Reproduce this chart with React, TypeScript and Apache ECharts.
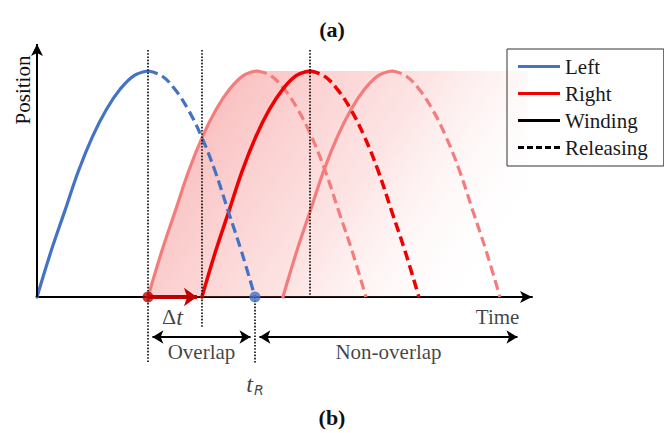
import React, { useEffect, useRef } from 'react';
import * as echarts from 'echarts';

const SERIF = 'Liberation Serif';

// Normalised hump (position vs. fraction of a phase)
const windProfile = [0, 0.2, 0.38, 0.56, 0.71, 0.83, 0.92, 0.98, 1];

// Stroke curves: start of winding, peak (winding -> releasing), end of releasing
const curveIds = ['left', 'rightEarly', 'rightMain', 'rightLate'];
const curveNames = ['Left', 'Right (Δt earlier)', 'Right', 'Right (later)'];
const curveStart = [0, 1.0, 1.486, 2.216];
const curvePeak = [1.0, 1.982, 2.459, 3.198];
const curveEnd = [1.964, 2.964, 3.441, 4.171];

// shaded band
const fillTopEnd = 4.42;

// dotted guide lines
const dottedX = [1.0, 1.486, 2.459, 1.964];
const dottedTop = [1.093, 1.093, 1.093, 0];
const dottedBottom = [-0.292, -0.133, 0, -0.292];

// events
const deltaTFrom = 1.0;
const deltaTTo = 1.486;
const tR = 1.964;
const spanY = -0.177;
const spanEnd = 4.369;

// text labels
const labelTexts = ['{d|Δ}{t|t}', 'Time', 'Overlap', 'Non-overlap', '{t|t}{r|R}'];
const labelX = [1.22, 4.351, 1.482, 3.167, 1.964];
const labelY = [-0.088, -0.088, -0.243, -0.243, -0.385];

const legendNames = ['Left', 'Right', 'Winding', 'Releasing'];

const X_MAX = 4.46;
const Y_MIN = -0.5;
const Y_MAX = 1.124;

function phase(a: number, b: number, rising: boolean) {
  const n = windProfile.length - 1;
  return windProfile.map((v, i) => [a + ((b - a) * i) / n, rising ? v : windProfile[n - i]]);
}

const curveColor: Record<string, string> = {
  left: '#4472C4',
  rightEarly: '#F47C7C',
  rightMain: '#F00000',
  rightLate: '#F47C7C',
};

export default function App() {
  const ref = useRef<HTMLDivElement>(null);

  useEffect(() => {
    if (!ref.current) return;
    const chart = echarts.init(ref.current, null, { renderer: 'svg' });

    const curveSeries: any[] = [];
    const drawOrder = ['rightLate', 'rightEarly', 'rightMain', 'left'];
    drawOrder.forEach((id) => {
      const i = curveIds.indexOf(id);
      const color = curveColor[id];
      const width = id === 'rightMain' ? 3.5 : 3.2;
      const base = {
        type: 'line',
        symbol: 'none',
        smooth: 0.4,
        silent: true,
        color,
        z: 3,
      };
      curveSeries.push({
        ...base,
        name: curveNames[i],
        data: phase(curveStart[i], curvePeak[i], true),
        lineStyle: { color, width, cap: 'round' },
      });
      curveSeries.push({
        ...base,
        name: curveNames[i] + ' releasing',
        data: phase(curvePeak[i], curveEnd[i], false),
        lineStyle: { color, width, type: [10, 5] },
      });
    });

    const fillSeries = {
      type: 'line',
      name: 'band',
      symbol: 'none',
      smooth: 0.4,
      silent: true,
      z: 1,
      data: [...phase(curveStart[1], curvePeak[1], true), [fillTopEnd, 1]],
      lineStyle: { width: 0, opacity: 0 },
      areaStyle: {
        color: new echarts.graphic.LinearGradient(0, 0.3, 1, 0.7, [
          { offset: 0, color: 'rgba(240,80,80,0.58)' },
          { offset: 0.55, color: 'rgba(245,120,120,0.28)' },
          { offset: 1, color: 'rgba(255,255,255,0)' },
        ]),
      },
    };

    const dottedSeries = {
      type: 'line',
      name: 'guides',
      data: [],
      silent: true,
      z: 4,
      markLine: {
        silent: true,
        symbol: ['none', 'none'],
        label: { show: false },
        lineStyle: { color: '#111', width: 1.7, type: [1.6, 1.6] },
        data: dottedX.map((x, i) => [
          { coord: [x, dottedTop[i]] },
          { coord: [x, dottedBottom[i]] },
        ]),
      },
    };

    const yAxisArrow = {
      type: 'line',
      name: 'yaxis',
      data: [],
      silent: true,
      z: 6,
      markLine: {
        silent: true,
        symbol: ['none', 'arrow'],
        symbolSize: [9, 12],
        label: { show: false },
        lineStyle: { color: '#000', width: 2, type: 'solid' },
        data: [[{ coord: [0, 0] }, { coord: [0, 1.12] }]],
      },
    };

    const deltaArrow = {
      type: 'line',
      name: 'delta',
      data: [],
      silent: true,
      z: 7,
      markLine: {
        silent: true,
        symbol: ['none', 'arrow'],
        symbolSize: [14, 13],
        label: { show: false },
        lineStyle: { color: '#C00000', width: 4, type: 'solid' },
        data: [[{ coord: [deltaTFrom, 0] }, { coord: [deltaTTo - 0.045, 0] }]],
      },
    };

    const spanArrows = {
      type: 'line',
      name: 'spans',
      data: [],
      silent: true,
      z: 7,
      markLine: {
        silent: true,
        symbol: ['arrow', 'arrow'],
        symbolSize: [10, 11],
        label: { show: false },
        lineStyle: { color: '#000', width: 2, type: 'solid' },
        data: [
          [{ coord: [deltaTFrom + 0.04, spanY] }, { coord: [tR - 0.04, spanY] }],
          [{ coord: [tR + 0.04, spanY] }, { coord: [spanEnd - 0.04, spanY] }],
        ],
      },
    };

    const dots = {
      type: 'scatter',
      name: 'events',
      silent: true,
      symbolSize: 11,
      z: 8,
      data: [
        { value: [deltaTFrom, 0], itemStyle: { color: '#C00000' } },
        { value: [tR, 0], itemStyle: { color: '#4472C4' } },
      ],
    };

    const labels = {
      type: 'scatter',
      name: 'labels',
      silent: true,
      symbolSize: 1,
      itemStyle: { color: 'transparent' },
      z: 9,
      data: labelTexts.map((t, i) => ({
        value: [labelX[i], labelY[i]],
        label:
          t === 'Time'
            ? { show: true, formatter: t, position: 'left', distance: 0 }
            : { show: true, formatter: t, position: 'inside' },
      })),
      label: {
        show: true,
        fontFamily: SERIF,
        fontSize: 21,
        color: '#111',
        rich: {
          d: { fontFamily: SERIF, fontSize: 22, color: '#111' },
          t: { fontFamily: SERIF, fontSize: 24, fontStyle: 'italic', color: '#111' },
          r: {
            fontFamily: 'DejaVu Sans',
            fontSize: 14,
            fontStyle: 'italic',
            color: '#111',
            padding: [12, 0, 0, 1],
          },
        },
      },
    };

    const legendDummies = [
      { type: 'line', name: 'Winding', data: [], color: '#000', lineStyle: { color: '#000' } },
      { type: 'line', name: 'Releasing', data: [], color: '#000', lineStyle: { color: '#000', type: 'dashed' } },
    ];

    const solidIcon = 'path://M0,0H42V3H0Z';
    const dashIcon = 'path://M0,0H6V3H0Z M9,0H15V3H9Z M18,0H24V3H18Z M27,0H33V3H27Z M36,0H42V3H36Z';
    const legendText = { fontFamily: SERIF, fontSize: 21, color: '#1a1a1a' };

    chart.setOption({
      animation: false,
      backgroundColor: '#fff',
      textStyle: { fontFamily: SERIF },
      title: [
        {
          text: '(a)',
          left: 'center',
          top: 13,
          textStyle: { fontFamily: SERIF, fontSize: 22, fontWeight: 'bold', color: '#111' },
        },
        {
          text: '(b)',
          left: 'center',
          top: 401,
          textStyle: { fontFamily: SERIF, fontSize: 22, fontWeight: 'bold', color: '#111' },
        },
      ],
      legend: {
        data: legendNames.map((n) => ({
          name: n,
          icon: n === 'Releasing' ? dashIcon : solidIcon,
        })),
        orient: 'vertical',
        left: 507,
        top: 49,
        itemWidth: 42,
        itemHeight: 3,
        itemGap: 6,
        padding: [7, 16, 8, 11],
        borderColor: '#333',
        borderWidth: 1,
        selectedMode: false,
        itemStyle: { borderWidth: 0 },
        textStyle: legendText,
      },
      grid: { left: 37, right: 132, top: 43, bottom: 23, containLabel: false },
      xAxis: {
        type: 'value',
        min: 0,
        max: X_MAX,
        axisLine: {
          show: true,
          onZero: true,
          symbol: ['none', 'arrow'],
          symbolSize: [9, 12],
          lineStyle: { color: '#000', width: 2 },
        },
        axisTick: { show: false },
        axisLabel: { show: false },
        splitLine: { show: false },
      },
      yAxis: {
        type: 'value',
        min: Y_MIN,
        max: Y_MAX,
        axisLine: { show: false },
        axisTick: { show: false },
        axisLabel: { show: false },
        splitLine: { show: false },
      },
      graphic: [
        {
          type: 'text',
          x: 23,
          y: 90,
          rotation: Math.PI / 2,
          style: {
            text: 'Position',
            fontFamily: SERIF,
            fontSize: 21,
            fill: '#111',
            align: 'center',
            verticalAlign: 'middle',
          },
        },
      ],
      series: [
        fillSeries,
        ...curveSeries,
        dottedSeries,
        yAxisArrow,
        deltaArrow,
        spanArrows,
        dots,
        labels,
        ...legendDummies,
      ],
    });

    return () => chart.dispose();
  }, []);

  return (
    <div
      ref={ref}
      style={{ position: 'fixed', left: 0, top: 0, width: 664, height: 433, background: '#fff' }}
    />
  );
}
